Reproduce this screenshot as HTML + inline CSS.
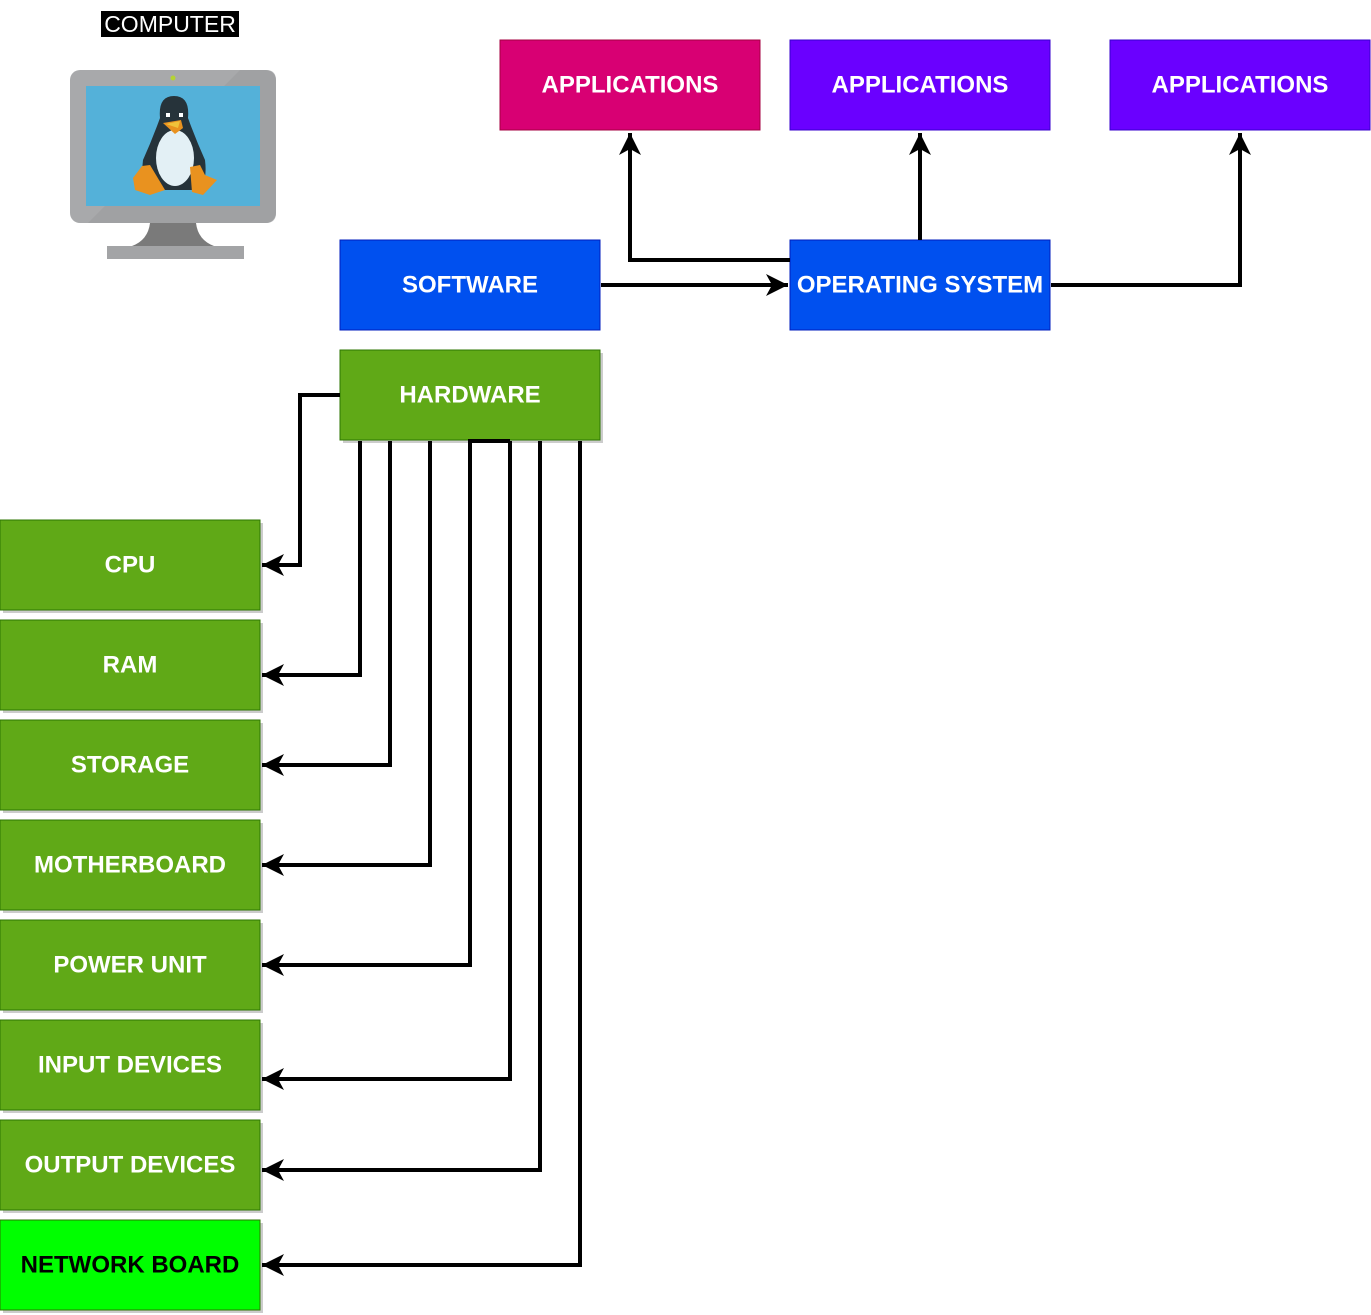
<!DOCTYPE html>
<html><head><meta charset="utf-8"><style>
html,body{margin:0;padding:0;background:#fff}
svg{display:block}
text{font-family:"Liberation Sans",Arial,sans-serif;font-weight:bold;font-size:24px;text-anchor:middle;dominant-baseline:central}
</style></head><body>
<svg width="1371" height="1315" viewBox="0 0 1371 1315" xmlns="http://www.w3.org/2000/svg">
<defs>
<marker id="a" markerUnits="userSpaceOnUse" markerWidth="24" markerHeight="24" viewBox="0 0 24 24" refX="22" refY="12" orient="auto">
<path d="M0,1 L22,12 L0,23 L6,12 Z" fill="#000"/>
</marker>
</defs>
<rect x="101" y="11" width="138" height="26" fill="#000"/>
<text x="170" y="24" fill="#fff" style="font-weight:normal;font-size:23px">COMPUTER</text>
<rect x="70" y="70" width="206" height="153" rx="10" fill="#a8a9ab"/>
<path d="M240,70 L266,70 Q276,70 276,80 L276,213 Q276,223 266,223 L88,223 Z" fill="#9b9c9e" opacity="0.6"/>
<rect x="86" y="86" width="174" height="120" fill="#54b1d9"/>
<circle cx="173" cy="78" r="2.5" fill="#b5d334"/>
<path d="M150,223 L196,223 Q198,240 214,246 L150,246 L132,246 Q148,240 150,223Z" fill="#7a7a7a"/>
<rect x="107" y="246" width="137" height="13" fill="#a3a4a6"/>
<path d="M160,118 Q158,96 174,96 Q190,96 188,118 Q196,140 205,160 Q208,185 196,190 L150,190 Q140,185 143,160 Q152,140 160,118Z" fill="#26333a"/>
<ellipse cx="175" cy="158" rx="19" ry="28" fill="#e3f0f5"/>
<path d="M163,123 L181,120 L183,128 L175,134 Z" fill="#e9921f"/>
<path d="M166,124 L180,121 L178,128 Z" fill="#f0c23a"/>
<rect x="166" y="113" width="4" height="4" fill="#fff"/><rect x="179" y="113" width="4" height="4" fill="#fff"/>
<path d="M133,178 L142,166 L150,165 L165,190 L150,195 L135,190Z" fill="#e9921f"/>
<path d="M190,167 L200,165 L205,175 L217,180 L203,195 L192,192Z" fill="#e9921f"/>
<g>
<rect x="500" y="40" width="260" height="90" fill="#d80073" stroke="#a50040"/>
<text x="630" y="85" fill="#fff">APPLICATIONS</text>
<rect x="790" y="40" width="260" height="90" fill="#6a00ff" stroke="#3700cc"/>
<text x="920" y="85" fill="#fff">APPLICATIONS</text>
<rect x="1110" y="40" width="260" height="90" fill="#6a00ff" stroke="#3700cc"/>
<text x="1240" y="85" fill="#fff">APPLICATIONS</text>
<rect x="340" y="240" width="260" height="90" fill="#0050ef" stroke="#001dbc"/>
<text x="470" y="285" fill="#fff">SOFTWARE</text>
<rect x="790" y="240" width="260" height="90" fill="#0050ef" stroke="#001dbc"/>
<text x="920" y="285" fill="#fff">OPERATING SYSTEM</text>
<rect x="343" y="353" width="260" height="90" fill="#000" opacity="0.2"/>
<rect x="340" y="350" width="260" height="90" fill="#60a917" stroke="#2d7600"/>
<text x="470" y="395" fill="#fff">HARDWARE</text>
</g>
<g>
<rect x="3" y="523" width="260" height="90" fill="#000" opacity="0.2"/>
<rect x="0" y="520" width="260" height="90" fill="#60a917" stroke="#2d7600"/>
<text x="130" y="565" fill="#fff">CPU</text>
<rect x="3" y="623" width="260" height="90" fill="#000" opacity="0.2"/>
<rect x="0" y="620" width="260" height="90" fill="#60a917" stroke="#2d7600"/>
<text x="130" y="665" fill="#fff">RAM</text>
<rect x="3" y="723" width="260" height="90" fill="#000" opacity="0.2"/>
<rect x="0" y="720" width="260" height="90" fill="#60a917" stroke="#2d7600"/>
<text x="130" y="765" fill="#fff">STORAGE</text>
<rect x="3" y="823" width="260" height="90" fill="#000" opacity="0.2"/>
<rect x="0" y="820" width="260" height="90" fill="#60a917" stroke="#2d7600"/>
<text x="130" y="865" fill="#fff">MOTHERBOARD</text>
<rect x="3" y="923" width="260" height="90" fill="#000" opacity="0.2"/>
<rect x="0" y="920" width="260" height="90" fill="#60a917" stroke="#2d7600"/>
<text x="130" y="965" fill="#fff">POWER UNIT</text>
<rect x="3" y="1023" width="260" height="90" fill="#000" opacity="0.2"/>
<rect x="0" y="1020" width="260" height="90" fill="#60a917" stroke="#2d7600"/>
<text x="130" y="1065" fill="#fff">INPUT DEVICES</text>
<rect x="3" y="1123" width="260" height="90" fill="#000" opacity="0.2"/>
<rect x="0" y="1120" width="260" height="90" fill="#60a917" stroke="#2d7600"/>
<text x="130" y="1165" fill="#fff">OUTPUT DEVICES</text>
<rect x="3" y="1223" width="260" height="90" fill="#000" opacity="0.2"/>
<rect x="0" y="1220" width="260" height="90" fill="#00ff00" stroke="#2d7600"/>
<text x="130" y="1265" fill="#000">NETWORK BOARD</text>
</g>
<g fill="none" stroke="#000" stroke-width="4" marker-end="url(#a)">
<path d="M601,285 L788,285"/>
<path d="M790,260 L630,260 L630,133"/>
<path d="M920,240 L920,133"/>
<path d="M1051,285 L1240,285 L1240,133"/>
<path d="M340,395 L300,395 L300,565 L262,565"/>
<path d="M360,441 L360,675 L262,675"/>
<path d="M390,441 L390,765 L262,765"/>
<path d="M430,441 L430,865 L262,865"/>
<path d="M510,441 L470,441 L470,965 L262,965"/>
<path d="M510,441 L510,1079 L262,1079"/>
<path d="M540,441 L540,1170 L262,1170"/>
<path d="M580,441 L580,1265 L262,1265"/>
</g>
</svg>
</body></html>
